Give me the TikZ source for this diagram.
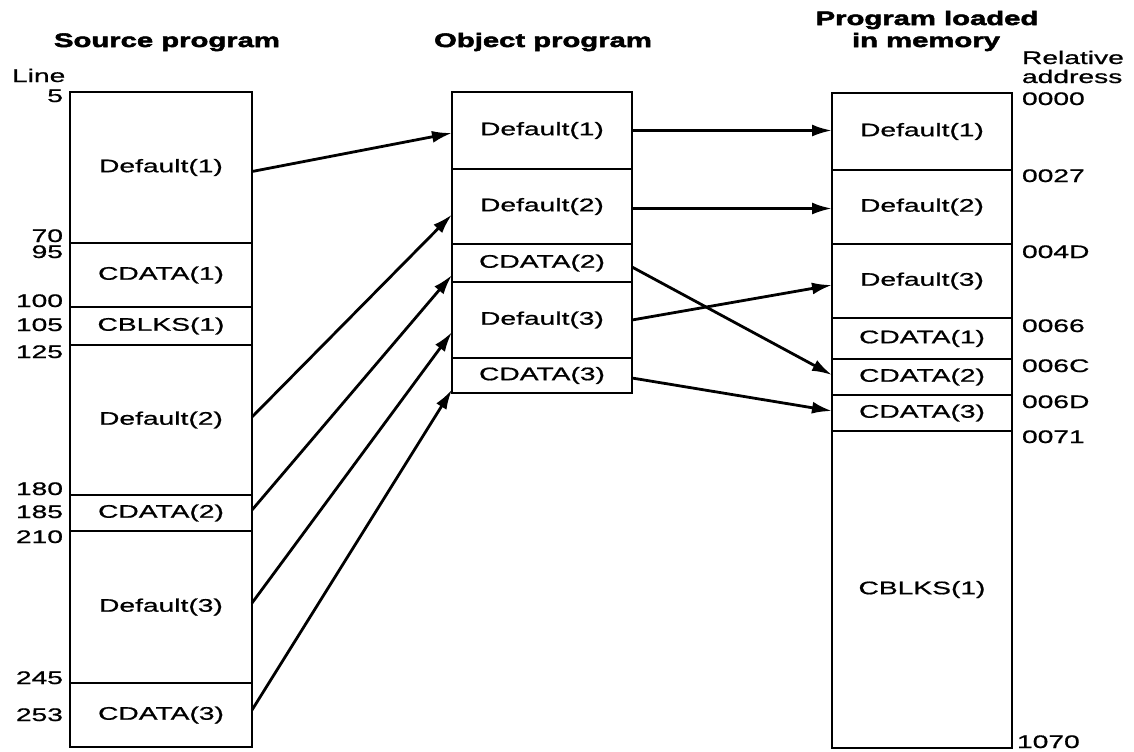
\documentclass[tikz,border=0pt]{standalone}
\usepackage{fontspec}
\setmainfont{Liberation Sans}
\newfontfamily\labfont{Liberation Sans}[FakeStretch=1.55,FakeBold=0.8]
\newfontfamily\headfont{Liberation Sans}[FakeStretch=1.5,FakeBold=2.6]
\usetikzlibrary{arrows.meta,calc}
\begin{document}
\begin{tikzpicture}[x=0.5pt,y=-0.5pt,
  seg/.style={draw, line width=1.2pt, inner sep=0pt, outer sep=0pt,
    minimum width=90pt, font=\labfont\fontsize{9.1}{10}\selectfont},
  lbl/.style={inner sep=0pt, outer sep=0pt, font=\labfont\fontsize{9.1}{10}\selectfont},
  num/.style={lbl, anchor=base east},
  addr/.style={lbl, anchor=base west},
  head/.style={inner sep=0pt, outer sep=0pt, anchor=base, font=\headfont\bfseries\fontsize{9.75}{11}\selectfont},
  arr/.style={-{Latex[length=10pt,width=6pt]}, line width=1.4pt}]
\useasboundingbox (0,0) rectangle (1134,751);
\fill[white] (0,0) rectangle (1134,751);

% headings
\node[head] (hsrc) at (167,47) {Source program};
\node[head] (hobj) at (543,47) {Object program};
\node[head] (hmem1) at (927,25) {Program loaded};
\node[head] (hmem2) at (926,47) {in memory};
\node[lbl, anchor=base west] (hline) at (12,82) {Line};
\node[lbl, anchor=base west] (hrel1) at (1022,64) {Relative};
\node[lbl, anchor=base west] (hrel2) at (1022,83) {address};

% source program
\node[seg, minimum width=91pt, minimum height=75.5pt] (L1) at (161,167.5) {Default(1)};
\node[seg, minimum width=91pt, minimum height=32pt]   (L2) at (161,275)   {CDATA(1)};
\node[seg, minimum width=91pt, minimum height=19pt]   (L3) at (161,326)   {CBLKS(1)};
\node[seg, minimum width=91pt, minimum height=75pt]   (L4) at (161,420)   {Default(2)};
\node[seg, minimum width=91pt, minimum height=18pt]   (L5) at (161,513)   {CDATA(2)};
\node[seg, minimum width=91pt, minimum height=76pt]   (L6) at (161,607)   {Default(3)};
\node[seg, minimum width=91pt, minimum height=32pt]   (L7) at (161,715)   {CDATA(3)};

% line numbers
\node[num] (n5)   at (63,102) {5};
\node[num] (n70)  at (63,242) {70};
\node[num] (n95)  at (63,258) {95};
\node[num] (n100) at (63,307) {100};
\node[num] (n105) at (63,331) {105};
\node[num] (n125) at (63,358) {125};
\node[num] (n180) at (63,495) {180};
\node[num] (n185) at (63,518) {185};
\node[num] (n210) at (63,543) {210};
\node[num] (n245) at (63,684) {245};
\node[num] (n253) at (63,721) {253};

% object program
\node[seg, minimum height=38.5pt] (M1) at (542,130.5) {Default(1)};
\node[seg, minimum height=37.5pt] (M2) at (542,206.5) {Default(2)};
\node[seg, minimum height=19pt]   (M3) at (542,263)   {CDATA(2)};
\node[seg, minimum height=38pt]   (M4) at (542,320)   {Default(3)};
\node[seg, minimum height=17.5pt] (M5) at (542,375.5) {CDATA(3)};

% program loaded in memory
\node[seg, minimum height=38.5pt]  (R1) at (922,131.5) {Default(1)};
\node[seg, minimum height=37pt]    (R2) at (922,207)   {Default(2)};
\node[seg, minimum height=37pt]    (R3) at (922,281)   {Default(3)};
\node[seg, minimum height=20.5pt]  (R4) at (922,338.5) {CDATA(1)};
\node[seg, minimum height=18pt]    (R5) at (922,377)   {CDATA(2)};
\node[seg, minimum height=18pt]    (R6) at (922,413)   {CDATA(3)};
\node[seg, minimum height=158.5pt] (R7) at (922,589.5) {CBLKS(1)};

% relative addresses
\node[addr] (a0000) at (1022,105) {0000};
\node[addr] (a0027) at (1022,182) {0027};
\node[addr] (a004D) at (1022,258) {004D};
\node[addr] (a0066) at (1022,332) {0066};
\node[addr] (a006C) at (1022,372) {006C};
\node[addr] (a006D) at (1022,408) {006D};
\node[addr] (a0071) at (1022,443) {0071};
\node[addr] (a1070) at (1017,748) {1070};

% source -> object
\draw[arr] ($(L1.east)+(0,4)$)  -- ($(M1.west)+(0,2.5)$);
\draw[arr] ($(L4.east)+(0,-3)$) -- ($(M2.west)+(0,8)$);
\draw[arr] ($(L5.east)+(0,-3)$) -- ($(M3.west)+(0,12)$);
\draw[arr] ($(L6.east)+(0,-4)$) -- ($(M4.west)+(0,12)$);
\draw[arr] ($(L7.east)+(0,-5)$) -- ($(M5.west)+(0,14)$);

% object -> memory
\draw[arr] (M1.east) -- (M1.east -| R1.west);
\draw[arr] ($(M2.east)+(0,2)$) -- ($(M2.east -| R2.west)+(0,2)$);
\draw[arr] ($(M3.east)+(0,4)$) -- ($(R5.west)+(0,-2)$);
\draw[arr] (M4.east) -- ($(R3.west)+(0,4)$);
\draw[arr] ($(M5.east)+(0,2.5)$) -- ($(R6.west)+(0,-2)$);
\end{tikzpicture}
\end{document}
